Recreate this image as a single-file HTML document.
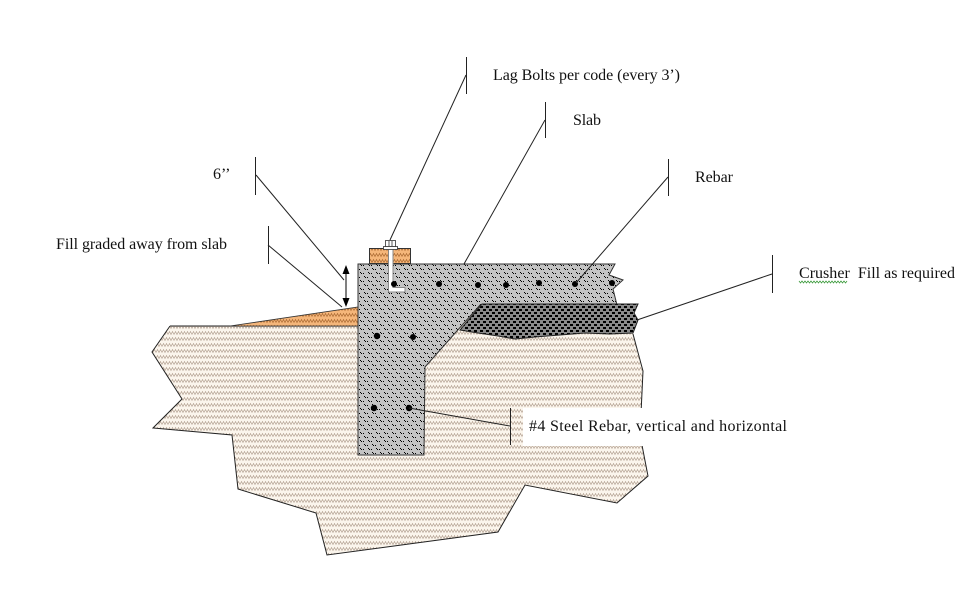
<!DOCTYPE html>
<html>
<head>
<meta charset="utf-8">
<style>
  html, body { margin:0; padding:0; background:#fff; }
  body { width:971px; height:596px; overflow:hidden; }
  svg { display:block; }
  text { font-family: "Liberation Serif", "Times New Roman", serif; font-size:16px; fill:#111; }
</style>
</head>
<body>
<svg width="971" height="596" viewBox="0 0 971 596" xmlns="http://www.w3.org/2000/svg">
  <defs>
    <pattern id="soil" width="6" height="6" patternUnits="userSpaceOnUse">
      <rect width="6" height="6" fill="#fbf5ec"/>
      <polyline points="0,4.5 1.5,1.5 3,4.5 4.5,1.5 6,4.5" fill="none" stroke="#a89484" stroke-width="0.6"/>
    </pattern>
    <pattern id="wood" width="6" height="6" patternUnits="userSpaceOnUse">
      <rect width="6" height="6" fill="#f5b67a"/>
      <polyline points="0,4.5 1.5,1.5 3,4.5 4.5,1.5 6,4.5" fill="none" stroke="#a8662e" stroke-width="0.7"/>
    </pattern>
    <pattern id="conc" width="8" height="8" patternUnits="userSpaceOnUse">
      <rect width="8" height="8" fill="#c4c4c4"/>
      <rect x="0" y="0" width="1" height="1" fill="#000"/>
      <rect x="1" y="1" width="1" height="1" fill="#000"/>
      <rect x="3" y="1" width="1" height="1" fill="#000"/>
      <rect x="4" y="4" width="1" height="1" fill="#000"/>
      <rect x="5" y="5" width="1" height="1" fill="#000"/>
      <rect x="7" y="5" width="1" height="1" fill="#000"/>
    </pattern>
    <pattern id="crush" width="6" height="6" patternUnits="userSpaceOnUse">
      <rect width="6" height="6" fill="#8a8a8a"/>
      <rect x="0" y="0" width="3" height="2" fill="#000"/>
      <rect x="3" y="3" width="3" height="2" fill="#000"/>
    </pattern>
  </defs>

  <!-- soil -->
  <polygon points="170,326 358,326 358,306 633,306 633,334 643,371 640,435 648,476 617,503 525,485 498,532 327,555 316,513 238,489 232,435 153,428 182,399 152,352"
           fill="url(#soil)" stroke="none"/>
  <polyline points="170,326 358,326" fill="none" stroke="#222" stroke-width="1"/>
  <polyline points="633,334 643,371 640,435 648,476 617,503 525,485 498,532 327,555 316,513 238,489 232,435 153,428 182,399 152,352 170,326"
            fill="none" stroke="#222" stroke-width="1"/>

  <!-- orange fill wedge -->
  <polygon points="230,326 358,307 358,326" fill="url(#wood)" stroke="#333" stroke-width="0.8"/>

  <!-- concrete -->
  <polygon points="358,264 615,264 609,275 623,280 613,289 617,305 480,305 425,367 424,455 358,455"
           fill="url(#conc)" stroke="#333" stroke-width="1"/>

  <!-- crusher fill -->
  <polygon points="482,304 638,304 634,313 638,320 633,333 610,334 585,333 560,335 535,337 515,339 498,336 478,333 460,330"
           fill="url(#crush)" stroke="#222" stroke-width="1"/>

  <!-- wood block -->
  <rect x="369.5" y="248.5" width="41" height="15" fill="url(#wood)" stroke="#333" stroke-width="1"/>

  <!-- bolt -->
  <path d="M388.5,249 L388.5,292 L405,292 L405,287.5 L393,287.5 L393,249 Z" fill="#fff" stroke="#888" stroke-width="1"/>
  <rect x="383.5" y="246.5" width="14" height="3" fill="#fff" stroke="#333" stroke-width="0.8"/>
  <rect x="385.5" y="240.5" width="10" height="6" fill="#fff" stroke="#333" stroke-width="0.8"/>
  <line x1="389" y1="241" x2="389" y2="246" stroke="#333" stroke-width="0.8"/>
  <line x1="392" y1="241" x2="392" y2="246" stroke="#333" stroke-width="0.8"/>

  <!-- rebar dots -->
  <g fill="#000">
    <circle cx="394" cy="284" r="3"/>
    <circle cx="439" cy="284" r="3"/>
    <circle cx="478" cy="285" r="3"/>
    <circle cx="506" cy="285" r="3"/>
    <circle cx="539" cy="283" r="3"/>
    <circle cx="575" cy="284" r="3"/>
    <circle cx="612" cy="283" r="3"/>
    <circle cx="377" cy="336" r="3.2"/>
    <circle cx="413" cy="337" r="3"/>
    <circle cx="374" cy="408" r="3.2"/>
    <circle cx="409" cy="408" r="3.2"/>
  </g>

  <!-- double arrow (6") -->
  <line x1="346" y1="268" x2="346" y2="305" stroke="#000" stroke-width="1"/>
  <polygon points="346,265 342.5,274 349.5,274" fill="#000"/>
  <polygon points="346,307 342.5,298 349.5,298" fill="#000"/>

  <!-- leaders -->
  <g stroke="#222" stroke-width="1" fill="none">
    <line x1="466.5" y1="57" x2="466.5" y2="94"/>
    <line x1="466" y1="75" x2="390" y2="240"/>
    <line x1="545.5" y1="102" x2="545.5" y2="138"/>
    <line x1="545" y1="120" x2="464" y2="264"/>
    <line x1="255.5" y1="157" x2="255.5" y2="195"/>
    <line x1="256" y1="175" x2="344" y2="280"/>
    <line x1="268.5" y1="226" x2="268.5" y2="264"/>
    <line x1="268" y1="245" x2="342" y2="307"/>
    <line x1="668.5" y1="159" x2="668.5" y2="196"/>
    <line x1="668" y1="177" x2="576" y2="283"/>
    <line x1="772.5" y1="255" x2="772.5" y2="293"/>
    <line x1="772" y1="274" x2="637" y2="320"/>
  </g>

  <!-- #4 steel rebar label box -->
  <rect x="523" y="408" width="272" height="38" fill="#fff"/>
  <line x1="510.5" y1="408" x2="510.5" y2="445" stroke="#222" stroke-width="1"/>
  <line x1="409" y1="408" x2="510" y2="426" stroke="#222" stroke-width="1"/>

  <!-- labels -->
  <text x="493" y="80" textLength="187" lengthAdjust="spacing">Lag Bolts per code (every 3’)</text>
  <text x="573" y="125" textLength="28" lengthAdjust="spacing">Slab</text>
  <text x="213" y="179">6’’</text>
  <text x="56" y="249" textLength="171" lengthAdjust="spacing">Fill graded away from slab</text>
  <text x="695" y="182" textLength="38" lengthAdjust="spacing">Rebar</text>
  <text x="799" y="278" textLength="156" lengthAdjust="spacing" xml:space="preserve">Crusher  Fill as required</text>
  <text x="529" y="431" textLength="258" lengthAdjust="spacing">#4 Steel Rebar, vertical and horizontal</text>

  <!-- spellcheck wavy underline -->
  <polyline points="799,281 800.5,283 802,281 803.5,283 805,281 806.5,283 808,281 809.5,283 811,281 812.5,283 814,281 815.5,283 817,281 818.5,283 820,281 821.5,283 823,281 824.5,283 826,281 827.5,283 829,281 830.5,283 832,281 833.5,283 835,281 836.5,283 838,281 839.5,283 841,281 842.5,283 844,281 845.5,283 847,281"
            fill="none" stroke="#3a9a3a" stroke-width="0.8"/>
</svg>
</body>
</html>
